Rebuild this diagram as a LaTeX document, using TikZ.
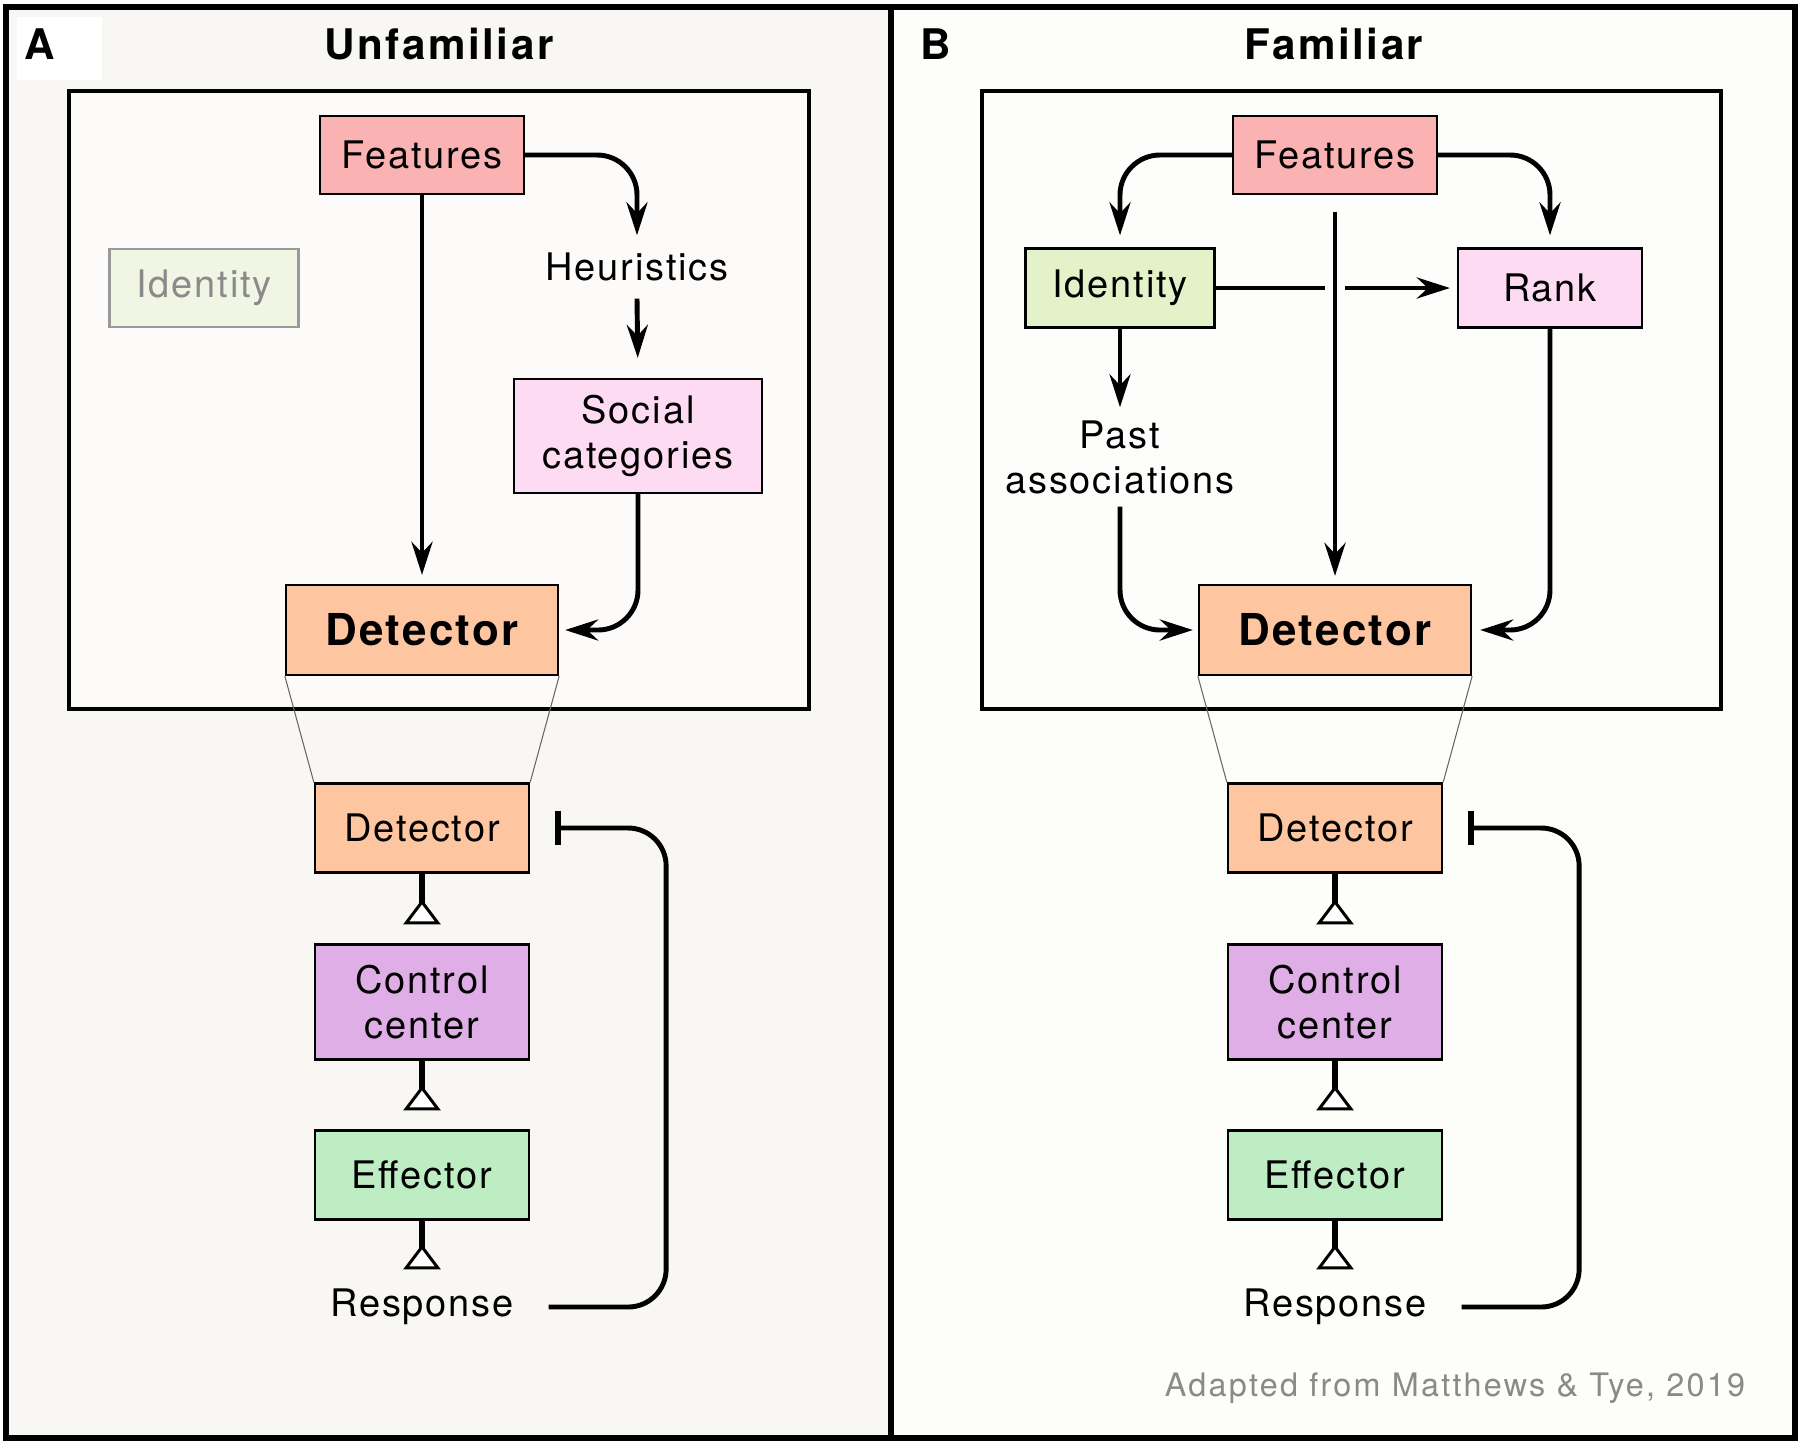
\documentclass[tikz,border=0pt]{standalone}
\usepackage{fontspec}
\setmainfont{TeX Gyre Heros}
\newfontfamily\boxfont[LetterSpace=5]{TeX Gyre Heros}
\newfontfamily\headfont[LetterSpace=6]{TeX Gyre Heros}
\newfontfamily\notefont[LetterSpace=7]{TeX Gyre Heros}
\usepackage{tikz}
\usetikzlibrary{arrows.meta, positioning}
\definecolor{panelA}{HTML}{F8F7F3}
\definecolor{panelB}{HTML}{FDFDF9}
\definecolor{innerA}{HTML}{FCFBFA}
\definecolor{innerB}{HTML}{FDFDFB}
\definecolor{featred}{HTML}{FAB2B2}
\definecolor{detpeach}{HTML}{FDC6A0}
\definecolor{rankpink}{HTML}{FDDCF3}
\definecolor{idgreen}{HTML}{E3F2C9}
\definecolor{idfaded}{HTML}{F1F5E3}
\definecolor{ctrlviolet}{HTML}{E0AEE6}
\definecolor{effgreen}{HTML}{BEEDC4}
\definecolor{notegray}{HTML}{8A8A8A}

\begin{document}
\begin{tikzpicture}[x=0.1mm, y=-0.1mm,
    box/.style={draw=black, line width=0.65pt, inner sep=0pt, align=center,
        font=\boxfont\fontsize{10.8}{12.8}\selectfont},
    small/.style={box, minimum width=21.4mm, minimum height=8.9mm},
    big/.style={box, fill=detpeach, minimum width=27.2mm, minimum height=9mm,
        font=\boxfont\bfseries\fontsize{12.5}{14}\selectfont},
    label/.style={inner sep=0pt, align=center, font=\boxfont\fontsize{10.8}{12.8}\selectfont},
    title/.style={font=\headfont\bfseries\fontsize{12}{14}\selectfont},
    flow/.style={line width=1.4pt, -{Stealth[length=3.3mm, width=2.1mm, inset=1.1mm]}},
    routed/.style={flow, rounded corners=4mm},
    link/.style={line width=1.4pt},
    excite/.style={line width=1.6pt, shorten >=1.9mm,
        -{Triangle[reversed, fill=white, line width=0.85pt, length=2.5mm, width=3.7mm]}},
    inhibit/.style={line width=1.4pt, rounded corners=3.8mm,
        -{Bar[width=3.4mm, line width=1.6pt]}},
    zoomline/.style={draw=black!60, line width=0.3pt}]
    \useasboundingbox (0,0) rectangle (1800,1444);
    % Panel backgrounds
    \fill[panelA] (6,7) rectangle (891,1438);
    \fill[panelB] (891,7) rectangle (1795,1438);
    \fill[white] (17,17) rectangle (102,80);
    \draw[line width=1pt, fill=innerA] (69,91) rectangle (809,709);
    \draw[line width=1pt, fill=innerB] (982,91) rectangle (1721,709);
    \draw[line width=1.5pt] (6,7) rectangle (1795,1438);
    \draw[line width=1.5pt] (891,7) -- (891,1438);
    % Panel titles
    \node[title] (tagA) at (40,44) {A};
    \node[title] (titleA) at (439,44) {Unfamiliar};
    \node[title] (tagB) at (936,44) {B};
    \node[title] (titleB) at (1334,44) {Familiar};

    % Panel A: upper box
    \node[box, fill=featred, minimum width=20.4mm, minimum height=7.8mm] (featA) at (422,155) {Features};
    \node[box, draw=black!40, fill=idfaded, text=notegray, minimum width=18.9mm, minimum height=7.8mm] (idA) at (204,288) {Identity};
    \node[label, minimum height=6.2mm] (heurA) at (637,267) {Heuristics};
    \node[box, fill=rankpink, minimum width=24.8mm, minimum height=11.4mm] (socA) at (638,436) {Social\\categories};
    \node[big] (detA) at (422,630) {Detector};
    \draw[routed] (featA.east) -| (heurA.north);
    \draw[flow, shorten >=2mm] (heurA.south) -- (socA.north);
    \draw[flow, shorten >=0.9mm] (featA.south) -- (detA.north);
    \draw[routed, shorten >=0.6mm] (socA.south) |- (detA.east);
    % Panel A: circuit
    \node[small, fill=detpeach] (dlA) at (422,828) {Detector};
    \node[box, fill=ctrlviolet, minimum width=21.4mm, minimum height=11.5mm] (ccA) at (422,1002) {Control\\center};
    \node[small, fill=effgreen] (efA) at (422,1175) {Effector};
    \node[label] (respA) at (422,1307) {Response};
    \draw[zoomline] (detA.south west) -- (dlA.north west);
    \draw[zoomline] (detA.south east) -- (dlA.north east);
    \draw[excite] (dlA.south) -- (ccA.north);
    \draw[excite] (ccA.south) -- (efA.north);
    \draw[excite] (efA.south) -- (respA.north);
    \draw[inhibit] ([xshift=3.4mm]respA.east) -| ([xshift=13.6mm]dlA.east) -- ([xshift=2.5mm]dlA.east);

    % Panel B: upper box
    \node[box, fill=featred, minimum width=20.4mm, minimum height=7.8mm] (featB) at (1335,155) {Features};
    \node[box, fill=idgreen, minimum width=18.9mm, minimum height=7.9mm] (idB) at (1120,288) {Identity};
    \node[box, fill=rankpink, minimum width=18.4mm, minimum height=7.9mm] (rankB) at (1550,288) {Rank};
    \node[label, minimum height=9.8mm] (pastB) at (1120,457) {Past\\associations};
    \node[big] (detB) at (1335,630) {Detector};
    \coordinate (crossB) at (featB.south |- idB.east);
    \draw[routed, shorten >=1.2mm] (featB.west) -| (idB.north);
    \draw[routed, shorten >=1.2mm] (featB.east) -| (rankB.north);
    \draw[flow, shorten <=1.7mm, shorten >=0.8mm] (featB.south) -- (detB.north);
    \draw[link] (idB.east) -- ([xshift=-1mm]crossB);
    \draw[flow, shorten >=0.7mm] ([xshift=1mm]crossB) -- (rankB.west);
    \draw[flow] (idB.south) -- (pastB.north);
    \draw[routed, shorten >=0.5mm] (pastB.south) |- (detB.west);
    \draw[routed, shorten >=0.8mm] (rankB.south) |- (detB.east);
    % Panel B: circuit
    \node[small, fill=detpeach] (dlB) at (1335,828) {Detector};
    \node[box, fill=ctrlviolet, minimum width=21.4mm, minimum height=11.5mm] (ccB) at (1335,1002) {Control\\center};
    \node[small, fill=effgreen] (efB) at (1335,1175) {Effector};
    \node[label] (respB) at (1335,1307) {Response};
    \draw[zoomline] (detB.south west) -- (dlB.north west);
    \draw[zoomline] (detB.south east) -- (dlB.north east);
    \draw[excite] (dlB.south) -- (ccB.north);
    \draw[excite] (ccB.south) -- (efB.north);
    \draw[excite] (efB.south) -- (respB.north);
    \draw[inhibit] ([xshift=3.4mm]respB.east) -| ([xshift=13.6mm]dlB.east) -- ([xshift=2.5mm]dlB.east);

    % Source note
    \node[font=\notefont\fontsize{9.2}{11}\selectfont, text=notegray] (note) at (1455,1388) {Adapted from Matthews \& Tye, 2019};
\end{tikzpicture}
\end{document}
